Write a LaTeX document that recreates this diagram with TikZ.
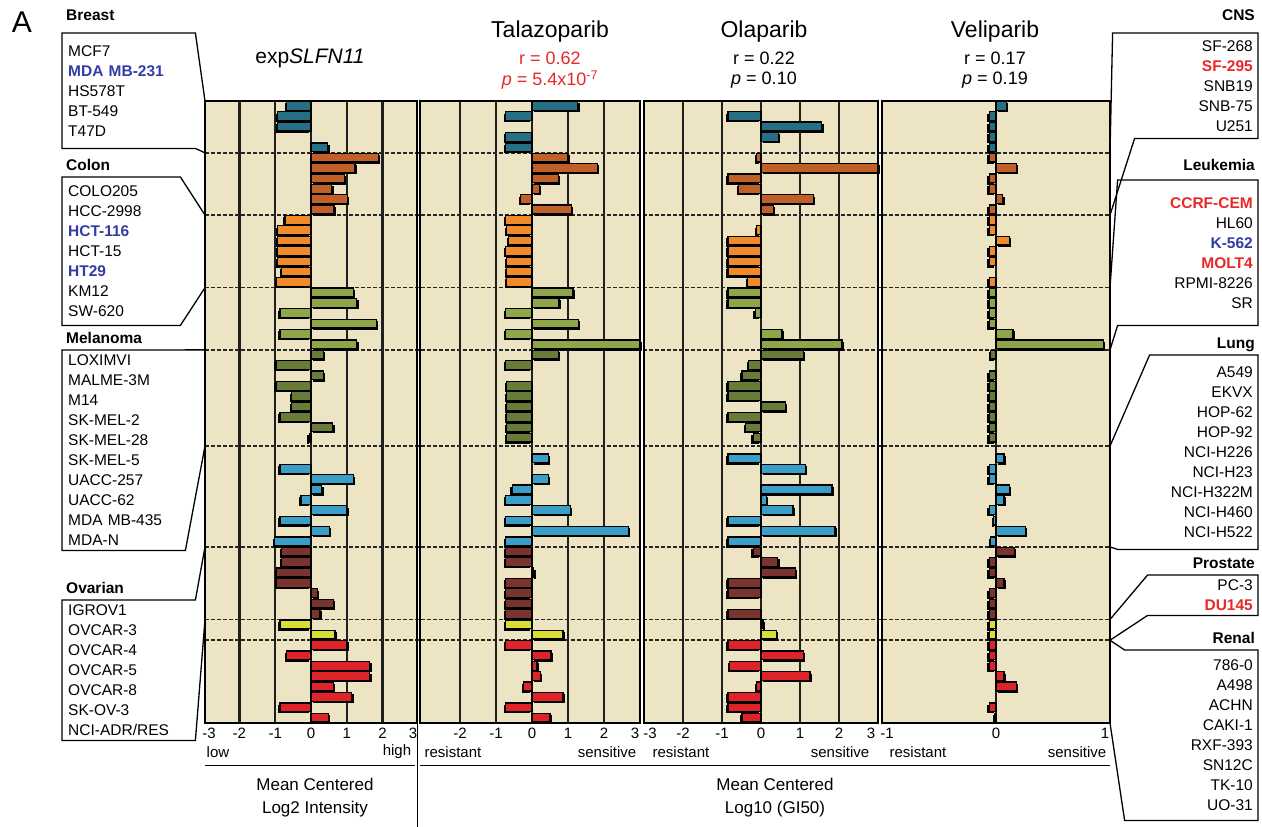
\documentclass[tikz,border=0pt]{standalone}
\usepackage{fontspec}
\setmainfont{Liberation Sans}
\usetikzlibrary{positioning}
\definecolor{panelbg}{RGB}{237,228,196}
\definecolor{breastc}{RGB}{38,112,133}
\definecolor{cnsc}{RGB}{192,96,40}
\definecolor{colonc}{RGB}{240,138,42}
\definecolor{leukc}{RGB}{143,166,72}
\definecolor{melc}{RGB}{104,124,56}
\definecolor{lungc}{RGB}{58,158,198}
\definecolor{ovc}{RGB}{122,52,48}
\definecolor{prc}{RGB}{218,222,52}
\definecolor{renc}{RGB}{222,36,40}
\definecolor{hiblue}{RGB}{50,60,165}
\definecolor{hired}{RGB}{232,40,40}
\newcommand{\lab}{\fontsize{15.5}{20}\selectfont}
\newcommand{\hlblue}[1]{\textcolor{hiblue}{\bfseries #1}}
\newcommand{\hlred}[1]{\textcolor{hired}{\bfseries #1}}
\newcommand{\tissue}[1]{\ifnum#1<6 breastc\else\ifnum#1<12 cnsc\else\ifnum#1<19 colonc\else\ifnum#1<25 leukc\else\ifnum#1<35 melc\else\ifnum#1<44 lungc\else\ifnum#1<51 ovc\else\ifnum#1<53 prc\else renc\fi\fi\fi\fi\fi\fi\fi\fi}
\newcommand{\tissuebars}[5]{%
  \foreach \v [count=\i] in {#5}{%
    \ifdim\v pt=0pt\else
      \pgfmathsetmacro\xa{#1}%
      \pgfmathsetmacro\xe{max(#3,min(#4,#1+\v*#2))}%
      \pgfmathsetmacro\sx{\v<0 ? -1.8 : 1.8}%
      \pgfmathsetmacro\ya{101+(\i-1)*10.37+0.4}%
      \pgfmathsetmacro\yb{\ya+8.8}%
      \edef\tc{\tissue{\i}}%
      \fill[black] ([shift={(\sx,1.8)}]\xa,\ya) rectangle ([shift={(\sx,1.8)}]\xe,\yb);
      \filldraw[barbox, fill=\tc] (\xa,\ya) rectangle (\xe,\yb);
    \fi}}
\tikzset{
  panel/.style={fill=panelbg, inner sep=0pt, outer sep=0pt},
  panelframe/.style={line width=2.6pt},
  gridline/.style={line width=2.4pt, draw=black!88},
  sepline/.style={line width=1.6pt, dash pattern=on 3.5pt off 2.5pt, draw=black!85},
  barbox/.style={draw=black, line width=1.3pt},
  callout/.style={line width=1.3pt},
  leftlist/.style={anchor=north west, align=left, inner xsep=6pt, inner ysep=0pt, font=\lab},
  rightlist/.style={anchor=north east, align=right, inner xsep=5pt, inner ysep=0pt, font=\lab},
  headl/.style={font=\lab\bfseries, inner sep=0pt},
  tickl/.style={font=\fontsize{15}{15}\selectfont, inner sep=0pt},
  ttl/.style={font=\fontsize{23}{23}\selectfont, inner sep=0pt},
  statl/.style={font=\fontsize{18}{18}\selectfont, inner sep=0pt},
  capl/.style={font=\fontsize{17}{23}\selectfont, align=center, inner sep=0pt}
}
\begin{document}
\begin{tikzpicture}[x=1pt, y=-1pt]
\useasboundingbox (0,0) rectangle (1262,827);
\node[panel, minimum width=212pt, minimum height=622pt] (pexp) at (311,412) {};
\node[panel, minimum width=220pt, minimum height=622pt] (ptala) at (530,412) {};
\node[panel, minimum width=234pt, minimum height=622pt] (pola) at (761,412) {};
\node[panel, minimum width=228pt, minimum height=622pt] (pveli) at (996,412) {};
\foreach \yy [count=\k from 0] in {101,152.85,215.07,287.66,349.88,446,546.91,619.5,640.24,723}{
  \coordinate (lb\k) at (205,\yy);
  \coordinate (rb\k) at (1110,\yy);
}
\foreach \z/\u in {311/35.8, 532/36, 761/39}{
  \foreach \g in {-2,...,2}
    \draw[gridline] ({\z+\g*\u},101) -- ({\z+\g*\u},723);
}
\draw[gridline, line width=1.6pt] (996,101) -- (996,723);
\foreach \k in {1,...,8}
  \draw[sepline] (lb\k) -- (rb\k);
\tissuebars{311}{35.8}{205}{417}{-0.68,-0.93,-0.93,0,0.47,
  1.89,1.23,0.93,0.58,1.02,0.64,
  -0.73,-0.93,-0.93,-0.93,-0.93,-0.82,-0.96,
  1.19,1.28,-0.87,1.82,-0.87,1.28,
  0.35,-0.98,0.35,-0.98,-0.54,-0.54,-0.87,0.61,-0.05,0,
  0,-0.87,1.19,0.3,-0.28,1.0,-0.87,0.51,-1.01,
  -0.82,-0.82,-0.96,-0.96,0.18,0.63,0.25,
  -0.87,0.67,
  1.0,-0.68,1.64,1.64,0.63,1.14,-0.87,0.49}
\tissuebars{532}{36}{420}{640}{1.27,-0.73,0,-0.73,-0.73,
  1.0,1.82,0.73,0.2,-0.32,1.09,
  -0.73,-0.7,-0.65,-0.73,-0.7,-0.7,-0.7,
  1.14,0.75,-0.73,1.29,-0.73,3.2,
  0.73,-0.73,0,-0.7,-0.7,-0.7,-0.7,-0.7,-0.7,0,
  0.45,0,0.45,-0.55,-0.73,1.06,-0.73,2.68,-0.73,
  -0.73,-0.73,0.05,-0.73,-0.73,-0.73,-0.73,
  -0.73,0.86,
  -0.73,0.53,0.14,0.23,-0.23,0.86,-0.73,0.5}
\tissuebars{761}{39}{644}{878}{0,-0.85,1.56,0.45,0,
  -0.12,3.2,-0.85,-0.57,1.35,0.32,
  0,-0.12,-0.85,-0.85,-0.85,-0.85,-0.34,
  -0.85,-0.85,-0.15,0,0.54,2.08,
  1.09,-0.32,-0.49,-0.85,-0.85,0.62,-0.85,-0.4,-0.2,0,
  -0.85,1.14,0,1.82,0.14,0.82,-0.85,1.9,-0.85,
  -0.2,0.43,0.88,-0.85,-0.85,0,-0.85,
  0.05,0.39,
  -0.85,1.09,-0.8,1.26,-0.12,-0.85,-0.85,-0.49}
\tissuebars{996}{114}{882}{1110}{0.09,-0.06,-0.06,-0.06,-0.06,
  -0.06,0.18,-0.06,-0.06,0.06,-0.06,
  -0.06,-0.06,0.12,-0.06,-0.06,0,-0.06,
  -0.06,-0.06,-0.06,-0.06,0.15,0.94,
  -0.05,0,-0.06,-0.06,-0.06,-0.06,-0.06,-0.06,-0.06,0,
  0.07,-0.06,-0.06,0.12,0.07,-0.06,-0.02,0.26,-0.05,
  0.16,-0.06,-0.06,0.07,-0.06,-0.06,-0.06,
  -0.06,-0.06,
  -0.06,-0.06,-0.06,0.07,0.18,0,-0.06,-0.01}
\foreach \p in {pexp,ptala,pola,pveli}
  \draw[panelframe] (\p.north west) rectangle (\p.south east);

\node[leftlist, text width=121pt, minimum height=115pt] (brlist) at (62,33) {MCF7\\\hlblue{MDA MB-231}\\HS578T\\BT-549\\T47D};
\node[leftlist, text width=106pt, minimum height=148pt] (colist) at (62,177) {COLO205\\HCC-2998\\\hlblue{HCT-116}\\HCT-15\\\hlblue{HT29}\\KM12\\SW-620};
\node[leftlist, text width=111pt, minimum height=200pt] (melist) at (62,350) {LOXIMVI\\MALME-3M\\M14\\SK-MEL-2\\SK-MEL-28\\SK-MEL-5\\UACC-257\\UACC-62\\MDA MB-435\\MDA-N};
\node[leftlist, text width=121pt, minimum height=140pt] (ovlist) at (62,600) {IGROV1\\OVCAR-3\\OVCAR-4\\OVCAR-5\\OVCAR-8\\SK-OV-3\\NCI-ADR/RES};
\node[headl, anchor=base west] (brhead) at (66,20.5) {Breast};
\node[headl, anchor=base west] (cohead) at (66,170.5) {Colon};
\node[headl, anchor=base west] (mehead) at (66,343.5) {Melanoma};
\node[headl, anchor=base west] (ovhead) at (66,593.5) {Ovarian};
\draw[callout] (brlist.north west) -- (brlist.north east) -- (lb0) -- (lb1) -- (brlist.south east) -- (brlist.south west) -- cycle;
\draw[callout] (colist.north west) -- (colist.north east) -- (lb2) -- (lb3) -- (colist.south east) -- (colist.south west) -- cycle;
\draw[callout] (melist.north west) -- (lb4) -- (lb5) -- (melist.south east) -- (melist.south west) -- cycle;
\draw[callout] (ovlist.north west) -- (ovlist.north east) -- (lb6) -- (lb7) -- (ovlist.south east) -- (ovlist.south west) -- cycle;

\node[rightlist, text width=135pt, minimum height=105pt] (cnslist) at (1258,33) {SF-268\\\hlred{SF-295}\\SNB19\\SNB-75\\U251};
\node[rightlist, text width=130pt, minimum height=145pt] (leulist) at (1258,180) {\hlred{CCRF-CEM}\\HL60\\\hlblue{K-562}\\\hlred{MOLT4}\\RPMI-8226\\SR};
\node[rightlist, text width=130pt, minimum height=194pt] (lunglist) at (1258,355) {A549\\EKVX\\HOP-62\\HOP-92\\NCI-H226\\NCI-H23\\NCI-H322M\\NCI-H460\\NCI-H522};
\node[rightlist, text width=100pt, minimum height=40pt] (prlist) at (1258,575) {PC-3\\\hlred{DU145}};
\node[rightlist, text width=123pt, minimum height=170pt] (renlist) at (1258,650) {786-0\\A498\\ACHN\\CAKI-1\\RXF-393\\SN12C\\TK-10\\UO-31};
\node[headl, anchor=base east] (cnshead) at (1255,20.5) {CNS};
\node[headl, anchor=base east] (leuhead) at (1255,170.5) {Leukemia};
\node[headl, anchor=base east] (lunghead) at (1255,348.5) {Lung};
\node[headl, anchor=base east] (prhead) at (1255,568.5) {Prostate};
\node[headl, anchor=base east] (renhead) at (1255,643.5) {Renal};
\draw[callout] (cnslist.north east) -- (cnslist.north west) -- (rb1) -- (rb2) -- ([xshift=22pt]cnslist.south west) -- (cnslist.south east) -- cycle;
\draw[callout] (leulist.north east) -- (leulist.north west) -- (rb3) -- (rb4) -- (leulist.south west) -- (leulist.south east) -- cycle;
\draw[callout] (lunglist.north east) -- ([xshift=32pt]lunglist.north west) -- (rb5) -- (rb6) -- (lunglist.south west) -- (lunglist.south east) -- cycle;
\draw[callout] (prlist.north east) -- (prlist.north west) -- (rb7) -- (rb8) -- (prlist.south west) -- (prlist.south east) -- cycle;
\draw[callout] (renlist.north east) -- (renlist.north west) -- (rb8) -- (rb9) -- (renlist.south west) -- (renlist.south east) -- cycle;

\node[font=\fontsize{30}{30}\selectfont, inner sep=0pt] (panelA) at (22,22) {A};
\node[font=\fontsize{21}{21}\selectfont, inner sep=0pt] (texp) at (310,58) {exp\textit{SLFN11}};
\node[ttl] (ttala) at (550,32) {Talazoparib};
\node[statl, text=hired, on grid, below=26pt of ttala] (rtala) {r = 0.62};
\node[statl, text=hired, on grid, below=22pt of rtala] (ptala) {\textit{p} = 5.4x10\textsuperscript{-7}};
\node[ttl] (tola) at (764,32) {Olaparib};
\node[statl, on grid, below=26pt of tola] (rola) {r = 0.22};
\node[statl, on grid, below=22pt of rola] (pola) {\textit{p} = 0.10};
\node[ttl] (tveli) at (995,32) {Veliparib};
\node[statl, on grid, below=26pt of tveli] (rveli) {r = 0.17};
\node[statl, on grid, below=22pt of rveli] (pveli) {\textit{p} = 0.19};

\foreach \t/\x in {-3/209,-2/239.4,-1/275.2,0/311,1/346.8,2/382.6,3/413}
  \node[tickl] (ta\t) at (\x,733) {\t};
\foreach \t/\x in {-2/460,-1/496,0/532,1/568,2/604,3/635}
  \node[tickl] (tb\t) at (\x,733) {\t};
\foreach \t/\x in {-3/650,-2/683,-1/722,0/761,1/800,2/839,3/871}
  \node[tickl] (tc\t) at (\x,733) {\t};
\foreach \t/\x in {-1/887,0/996,1/1105}
  \node[tickl] (td\t) at (\x,733) {\t};
\node[tickl] (lowl) at (218,752) {low};
\node[tickl] (highl) at (397,752) {high};
\node[tickl] (resa) at (453,752) {resistant};
\node[tickl] (sena) at (607,752) {sensitive};
\node[tickl] (resb) at (681,752) {resistant};
\node[tickl] (senb) at (840,752) {sensitive};
\node[tickl] (resc) at (918,752) {resistant};
\node[tickl] (senc) at (1077,752) {sensitive};
\coordinate (ruleA) at (205,765);
\coordinate (ruleB) at (415,765);
\coordinate (ruleC) at (420,765);
\coordinate (ruleD) at (1110,765);
\draw[line width=1pt] (ruleA) -- (ruleB);
\draw[line width=1pt] (ruleC) -- (ruleD);
\draw[line width=1pt] (pexp.south east) -- (417,827);
\node[capl] (capexp) at (315,798) {Mean Centered\\Log2 Intensity};
\node[capl] (capgi) at (775,798) {Mean Centered\\Log10 (GI50)};
\end{tikzpicture}
\end{document}
